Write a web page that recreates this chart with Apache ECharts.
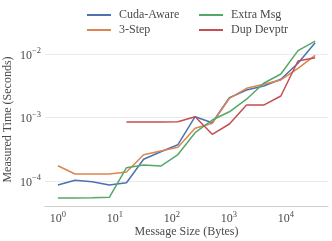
<!DOCTYPE html>
<html>
<head>
<meta charset="utf-8">
<script src="https://cdn.jsdelivr.net/npm/echarts@6/dist/echarts.min.js"></script>
<style>html,body{margin:0;padding:0;background:#fff}#c{width:332px;height:241px}</style>
</head>
<body>
<div id="c"></div>
<script>
const sizes = [1,2,4,8,16,32,64,128,256,512,1024,2048,4096,8192,16384,32768];
const cudaAware = [8.65e-5,1.03e-4,9.75e-5,8.65e-5,9.4e-5,2.2e-4,2.89e-4,3.73e-4,1.03e-3,8.28e-4,2.05e-3,2.71e-3,3.13e-3,4.0e-3,7.14e-3,1.51e-2];
const threeStep = [1.74e-4,1.29e-4,1.29e-4,1.29e-4,1.39e-4,2.59e-4,2.97e-4,3.39e-4,6.76e-4,8.1e-4,2.0e-3,2.88e-3,3.33e-3,3.9e-3,5.96e-3,9.55e-3];
const extraMsg = [5.4e-5,5.4e-5,5.45e-5,5.53e-5,1.62e-4,1.79e-4,1.72e-4,2.61e-4,5.77e-4,9.14e-4,1.23e-3,1.94e-3,3.46e-3,4.84e-3,1.13e-2,1.60e-2];
const dupDevptr = [null,null,null,null,8.5e-4,8.5e-4,8.5e-4,8.6e-4,1.03e-3,5.43e-4,7.9e-4,1.57e-3,1.57e-3,2.18e-3,7.76e-3,8.75e-3];
const seriesNames = ['Cuda-Aware','3-Step','Extra Msg','Dup Devptr'];
const colors = ['#4C72B0','#DD8452','#55A868','#C44E52'];

const FONT = 'Liberation Serif';
const TXT = '#4a4a4a';
function powLabel(v){
  const l = Math.log10(v);
  const e = Math.round(l);
  if (Math.abs(l - e) > 1e-6) return '';
  return '{b|10}{s|' + String(e).replace('-', '\u2212') + '}';
}
const rich = {
  b: {fontFamily: FONT, fontSize: 12, color: TXT, lineHeight: 15, verticalAlign: 'bottom'},
  s: {fontFamily: FONT, fontSize: 8.5, color: TXT, lineHeight: 15, verticalAlign: 'top'}
};
const pair = (arr) => sizes.map((s, i) => [s, arr[i]]);
const datasets = [cudaAware, threeStep, extraMsg, dupDevptr];
const legendBase = {
  top: 3, orient: 'vertical', itemGap: 1, itemWidth: 24, itemHeight: 2, icon: 'rect',
  textStyle: {fontFamily: FONT, fontSize: 12, color: TXT, padding: [0,0,0,3], lineHeight: 14}
};

const chart = echarts.init(document.getElementById('c'), null, {renderer: 'canvas'});
chart.setOption({
  animation: false,
  backgroundColor: '#fff',
  grid: {left: 45, right: 4, top: 33, bottom: 35, containLabel: false, outerBoundsMode: 'none'},
  legend: [
    Object.assign({}, legendBase, {left: 82, data: ['Cuda-Aware','3-Step']}),
    Object.assign({}, legendBase, {left: 194, data: ['Extra Msg','Dup Devptr']})
  ],
  xAxis: {
    type: 'log', logBase: 10, min: Math.pow(10, -0.226), max: Math.pow(10, 4.741),
    name: 'Message Size (Bytes)', nameLocation: 'middle', nameGap: 20, nameMoveOverlap: false,
    nameTextStyle: {fontFamily: FONT, fontSize: 12, color: TXT},
    axisLine: {show: true, lineStyle: {color: '#cccccc', width: 1}},
    axisTick: {show: false},
    minorTick: {show: false},
    splitLine: {show: false},
    axisLabel: {formatter: powLabel, rich: rich, margin: 4, showMinLabel: true, showMaxLabel: true}
  },
  yAxis: {
    type: 'log', logBase: 10, min: Math.pow(10, -4.394), max: Math.pow(10, -1.669),
    name: 'Measured Time (Seconds)', nameLocation: 'middle', nameGap: 31, nameMoveOverlap: false,
    nameTextStyle: {fontFamily: FONT, fontSize: 12, color: TXT},
    axisLine: {show: false},
    axisTick: {show: false},
    minorTick: {show: false},
    splitLine: {show: true, showMinLine: false, showMaxLine: false, lineStyle: {color: '#ebebeb', width: 1}},
    axisLabel: {formatter: powLabel, rich: rich, margin: 4}
  },
  series: seriesNames.map((n, i) => ({
    name: n, type: 'line', data: pair(datasets[i]), symbol: 'none', connectNulls: false,
    lineStyle: {color: colors[i], width: 1.5}, itemStyle: {color: colors[i]}
  }))
});
</script>
</body>
</html>
